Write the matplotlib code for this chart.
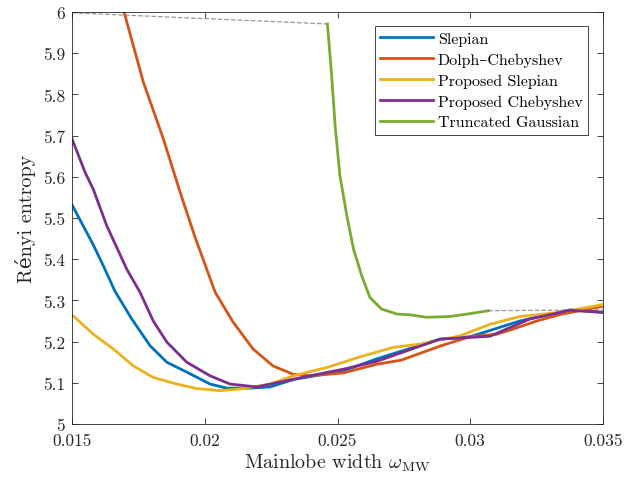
import matplotlib
matplotlib.use('Agg')
import matplotlib.pyplot as plt
from matplotlib.ticker import FuncFormatter

plt.rcParams['font.family'] = ['cmr10', 'DejaVu Serif']
plt.rcParams['mathtext.fontset'] = 'cm'
plt.rcParams['axes.unicode_minus'] = False

# values
slepian_x = [0.015, 0.0158, 0.01618, 0.01662, 0.01725, 0.01794, 0.01857, 0.01932, 0.0202, 0.02083,
             0.0217, 0.02246, 0.02334, 0.02522, 0.02647, 0.02886, 0.03, 0.03187, 0.03376, 0.035]
slepian_y = [5.532, 5.435, 5.384, 5.322, 5.255, 5.19, 5.15, 5.126, 5.097, 5.087,
             5.087, 5.09, 5.108, 5.129, 5.158, 5.206, 5.212, 5.25, 5.277, 5.271]

dolph_x = [0.01696, 0.01769, 0.01844, 0.01907, 0.01963, 0.02039, 0.02106, 0.02182, 0.02257, 0.02332,
           0.02396, 0.02522, 0.02647, 0.0274, 0.0289, 0.03, 0.031, 0.0315, 0.0325, 0.0334, 0.035]
dolph_y = [6.0, 5.829, 5.692, 5.563, 5.454, 5.32, 5.248, 5.182, 5.141, 5.121,
           5.117, 5.124, 5.145, 5.155, 5.19, 5.212, 5.218, 5.228, 5.25, 5.266, 5.286]

prop_slepian_x = [0.015, 0.0158, 0.01656, 0.01731, 0.01806, 0.01894, 0.0197, 0.02057, 0.02133, 0.02246,
                  0.02334, 0.02459, 0.02585, 0.0271, 0.0281, 0.02961, 0.03074, 0.03187, 0.03338, 0.035]
prop_slepian_y = [5.265, 5.218, 5.182, 5.141, 5.113, 5.097, 5.086, 5.081, 5.085, 5.097,
                  5.117, 5.137, 5.163, 5.186, 5.194, 5.214, 5.242, 5.261, 5.271, 5.29]

prop_cheb_x = [0.015, 0.01549, 0.0158, 0.01631, 0.01706, 0.01756, 0.01806, 0.01857, 0.01932, 0.0202,
               0.02095, 0.02196, 0.02396, 0.02522, 0.02647, 0.02886, 0.03074, 0.03225, 0.03376, 0.035]
prop_cheb_y = [5.692, 5.611, 5.57, 5.481, 5.376, 5.32, 5.25, 5.199, 5.15, 5.117,
               5.097, 5.09, 5.117, 5.133, 5.152, 5.206, 5.213, 5.255, 5.276, 5.271]

gauss_x = [0.02462, 0.02478, 0.02491, 0.02509, 0.02535, 0.0256, 0.02591, 0.02622, 0.02666, 0.02723,
           0.02773, 0.02836, 0.02924, 0.03, 0.03068]
gauss_y = [5.971, 5.845, 5.724, 5.603, 5.506, 5.425, 5.36, 5.307, 5.279, 5.267,
           5.265, 5.259, 5.261, 5.268, 5.275]

dash_left_x = [0.015, 0.02462]
dash_left_y = [5.998, 5.971]
dash_right_x = [0.03068, 0.035]
dash_right_y = [5.275, 5.277]

x_ticks = [0.015, 0.02, 0.025, 0.03, 0.035]
y_ticks = [5, 5.1, 5.2, 5.3, 5.4, 5.5, 5.6, 5.7, 5.8, 5.9, 6]

fig = plt.figure(figsize=(6.39, 4.81), dpi=100)
ax = fig.add_axes([0.1127, 0.1164, 0.8310, 0.8566])

ax.plot(dash_left_x, dash_left_y, '--', color='#999999', lw=0.9)
ax.plot(dash_right_x, dash_right_y, '--', color='#999999', lw=0.9)
ax.plot(slepian_x, slepian_y, color='#0072BD', lw=2, label='Slepian')
ax.plot(dolph_x, dolph_y, color='#D95319', lw=2, label='Dolph\u2013Chebyshev')
ax.plot(prop_slepian_x, prop_slepian_y, color='#EDB120', lw=2, label='Proposed Slepian')
ax.plot(prop_cheb_x, prop_cheb_y, color='#7E2F8E', lw=2, label='Proposed Chebyshev')
ax.plot(gauss_x, gauss_y, color='#77AC30', lw=2, label='Truncated Gaussian')

ax.set_xlim(0.015, 0.035)
ax.set_ylim(5, 6)
ax.set_xticks(x_ticks)
ax.set_yticks(y_ticks)
ax.xaxis.set_major_formatter(FuncFormatter(lambda v, p: '%g' % v))
ax.yaxis.set_major_formatter(FuncFormatter(lambda v, p: '%g' % v))
ax.tick_params(direction='in', top=True, right=True, labelsize=12.5, length=4.5,
               color='#262626', labelcolor='#262626', width=0.6)
ax.tick_params(axis='x', pad=6)
ax.tick_params(axis='y', pad=5)
for s in ax.spines.values():
    s.set_color('#262626')
    s.set_linewidth(0.6)

ax.set_xlabel(r'Mainlobe width $\omega_{\mathrm{MW}}$', fontsize=14.5, color='#262626', labelpad=3)
ax.set_ylabel('R\u00e9nyi entropy', fontsize=14.5, color='#262626', labelpad=5)

leg = ax.legend(loc='upper right', bbox_to_anchor=(0.972, 0.966), fontsize=11.5,
                fancybox=False, framealpha=1, edgecolor='#262626', handlelength=3.3,
                handletextpad=0.3, labelspacing=0.42, borderpad=0.35, borderaxespad=0)
leg.get_frame().set_linewidth(0.6)

fig.savefig('out.png', dpi=100)
